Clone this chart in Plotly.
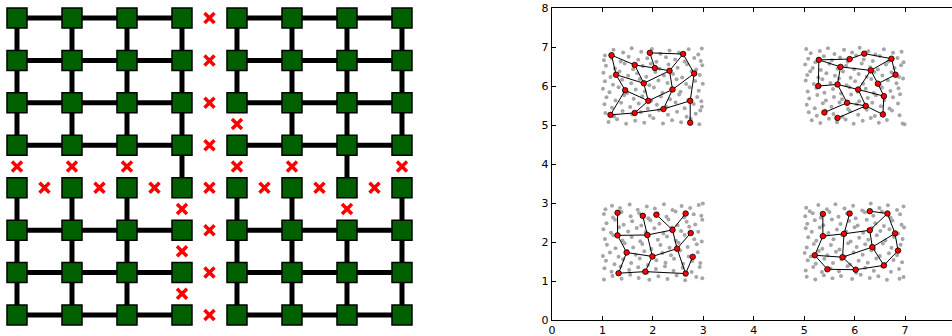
import plotly.graph_objects as go

# ================= LEFT PANEL: lattice =================
grid_cols = [0, 1, 2, 3, 4, 5, 6, 7]
grid_rows = [0, 1, 2, 3, 4, 5, 6, 7]   # row 0 at top

# red "x" marks = removed bonds (col, row)
cut_marks = [
    (3.5, 0), (3.5, 1), (3.5, 2), (3.5, 3), (3.5, 4), (3.5, 5), (3.5, 6), (3.5, 7),
    (0, 3.5), (1, 3.5), (2, 3.5), (4, 3.5), (5, 3.5), (7, 3.5),
    (0.5, 4), (1.5, 4), (2.5, 4), (4.5, 4), (5.5, 4), (6.5, 4),
    (4, 2.5), (3, 4.5), (3, 5.5), (3, 6.5), (6, 4.5),
]

# ================= RIGHT PANEL: clusters =================
tl_gray = [(1.05,6.78),(1.22,6.93),(1.41,6.86),(1.58,6.97),(1.77,6.88),(1.98,6.95),(2.15,6.83),(2.33,6.91),(2.52,6.86),(2.71,6.94),(2.90,6.81),(2.97,6.96),
 (1.03,6.66),(1.18,6.72),(1.36,6.63),(1.52,6.75),(1.71,6.67),(1.89,6.71),(2.07,6.62),(2.26,6.74),(2.44,6.68),(2.63,6.63),(2.82,6.72),(2.95,6.64),
 (1.07,6.52),(1.25,6.45),(1.44,6.58),(1.61,6.43),(1.80,6.51),(1.96,6.57),(2.13,6.44),(2.31,6.55),(2.49,6.47),(2.68,6.56),(2.86,6.42),(2.98,6.53),
 (1.02,6.34),(1.16,6.23),(1.34,6.37),(1.51,6.26),(1.69,6.33),(1.87,6.24),(2.05,6.36),(2.22,6.27),(2.40,6.31),(2.58,6.22),(2.77,6.38),(2.93,6.28),
 (1.05,6.12),(1.21,6.03),(1.39,6.16),(1.57,6.07),(1.74,6.18),(1.93,6.02),(2.11,6.14),(2.29,6.08),(2.47,6.17),(2.66,6.05),(2.84,6.13),(2.99,6.06),
 (1.01,5.93),(1.14,5.84),(1.32,5.97),(1.49,5.82),(1.66,5.91),(1.84,5.86),(2.02,5.96),(2.19,5.83),(2.37,5.92),(2.55,5.85),(2.73,5.97),(2.91,5.88),
 (1.08,5.71),(1.26,5.63),(1.43,5.76),(1.62,5.67),(1.79,5.74),(1.97,5.62),(2.16,5.73),(2.34,5.66),(2.52,5.78),(2.70,5.64),(2.88,5.72),(2.96,5.61),
 (1.04,5.53),(1.19,5.44),(1.37,5.57),(1.55,5.46),(1.72,5.55),(1.90,5.42),(2.08,5.52),(2.27,5.47),(2.45,5.58),(2.63,5.43),(2.81,5.54),(2.97,5.47),
 (1.06,5.31),(1.23,5.22),(1.40,5.36),(1.59,5.27),(1.76,5.33),(1.94,5.24),(2.12,5.38),(2.30,5.26),(2.48,5.34),(2.67,5.21),(2.85,5.29),(2.94,5.37),
 (1.12,5.08),(1.29,5.15),(1.47,5.03),(1.65,5.11),(1.83,5.06),(2.01,5.17),(2.20,5.04),(2.38,5.12),(2.56,5.07),(2.75,5.16),(2.92,5.02)]

tr_gray = [(5.04,6.95),(5.13,6.84),(5.31,6.90),(5.47,6.97),(5.60,6.82),(5.79,6.93),(5.95,6.86),(6.10,6.98),(6.27,6.89),(6.41,6.81),(6.58,6.94),(6.76,6.85),(6.93,6.88),
 (5.08,6.70),(5.22,6.61),(5.39,6.76),(5.55,6.66),(5.71,6.73),(5.86,6.62),(6.03,6.78),(6.18,6.68),(6.36,6.64),(6.50,6.77),(6.67,6.63),(6.85,6.72),(6.97,6.61),
 (5.02,6.55),(5.17,6.46),(5.33,6.41),(5.50,6.57),(5.66,6.44),(5.83,6.52),(5.99,6.43),(6.14,6.58),(6.31,6.48),(6.46,6.42),(6.62,6.55),(6.79,6.46),(6.92,6.53),
 (5.06,6.28),(5.12,6.38),(5.28,6.22),(5.44,6.33),(5.61,6.26),(5.77,6.37),(5.92,6.21),(6.08,6.31),(6.24,6.24),(6.39,6.36),(6.55,6.27),(6.73,6.35),(6.88,6.23),
 (5.03,6.14),(5.19,6.05),(5.36,6.17),(5.52,6.08),(5.69,6.19),(5.84,6.02),(6.01,6.12),(6.17,6.06),(6.33,6.18),(6.50,6.03),(6.66,6.15),(6.83,6.07),(6.96,6.19),
 (5.07,5.86),(5.24,5.95),(5.40,5.83),(5.57,5.92),(5.73,5.81),(5.90,5.97),(6.06,5.85),(6.22,5.93),(6.38,5.82),(6.54,5.96),(6.71,5.87),(6.87,5.94),
 (5.10,5.68),(5.26,5.77),(5.43,5.63),(5.59,5.72),(5.75,5.66),(5.93,5.78),(6.09,5.61),(6.26,5.69),(6.42,5.76),(6.59,5.64),(6.76,5.71),(6.90,5.79),
 (5.05,5.52),(5.21,5.43),(5.37,5.56),(5.54,5.47),(5.70,5.58),(5.87,5.41),(6.04,5.53),(6.20,5.45),(6.35,5.57),(6.52,5.48),(6.69,5.42),(6.86,5.55),
 (5.09,5.33),(5.25,5.24),(5.42,5.37),(5.58,5.28),(5.76,5.21),(5.91,5.35),(6.07,5.26),(6.24,5.39),(6.40,5.23),(6.57,5.31),(6.74,5.37),(6.89,5.25),
 (5.15,5.12),(5.32,5.05),(5.49,5.16),(5.65,5.07),(5.82,5.14),(5.98,5.03),(6.16,5.11),(6.32,5.18),(6.48,5.06),(6.64,5.13),(6.95,5.04),(6.99,5.02)]

bl_gray = [(1.06,2.84),(1.19,2.93),(1.35,2.87),(1.54,2.96),(1.70,2.83),(1.88,2.91),(2.04,2.86),(2.22,2.97),(2.39,2.82),(2.57,2.92),(2.74,2.87),(2.91,2.95),(2.99,2.99),
 (1.03,2.72),(1.21,2.63),(1.38,2.77),(1.56,2.66),(1.73,2.74),(1.91,2.61),(2.09,2.73),(2.27,2.65),(2.45,2.78),(2.62,2.63),(2.81,2.71),(2.96,2.67),
 (1.08,2.48),(1.25,2.57),(1.42,2.44),(1.59,2.53),(1.77,2.42),(1.95,2.56),(2.13,2.47),(2.31,2.58),(2.49,2.43),(2.67,2.52),(2.84,2.45),(2.98,2.57),
 (1.02,2.33),(1.17,2.24),(1.33,2.38),(1.51,2.27),(1.68,2.36),(1.86,2.25),(2.03,2.35),(2.21,2.22),(2.38,2.37),(2.56,2.28),(2.72,2.39),(2.90,2.26),
 (1.05,2.08),(1.22,2.17),(1.40,2.04),(1.58,2.13),(1.75,2.02),(1.92,2.16),(2.10,2.06),(2.28,2.14),(2.46,2.03),(2.63,2.18),(2.82,2.07),(2.97,2.01),
 (1.09,1.93),(1.26,1.84),(1.44,1.97),(1.61,1.86),(1.79,1.95),(1.97,1.82),(2.15,1.92),(2.33,1.85),(2.51,1.98),(2.69,1.87),(2.87,1.94),
 (1.01,1.64),(1.15,1.73),(1.32,1.62),(1.49,1.77),(1.66,1.67),(1.83,1.76),(2.01,1.61),(2.19,1.72),(2.36,1.66),(2.54,1.78),(2.71,1.63),(2.89,1.74),
 (1.07,1.52),(1.24,1.43),(1.41,1.56),(1.57,1.46),(1.74,1.58),(1.90,1.41),(2.07,1.53),(2.25,1.47),(2.42,1.57),(2.60,1.44),(2.78,1.51),(2.94,1.46),
 (1.04,1.33),(1.18,1.24),(1.36,1.37),(1.53,1.28),(1.71,1.35),(1.89,1.22),(2.06,1.31),(2.24,1.38),(2.41,1.26),(2.59,1.34),(2.77,1.23),(2.93,1.36),
 (1.03,1.04),(1.20,1.13),(1.38,1.06),(1.55,1.16),(1.72,1.08),(1.93,1.03),(2.11,1.12),(2.29,1.05),(2.47,1.14),(2.64,1.02),(2.86,1.10),(2.98,1.07)]

br_gray = [(5.04,2.88),(5.11,2.79),(5.28,2.95),(5.45,2.84),(5.62,2.97),(5.80,2.86),(5.97,2.93),(6.15,2.81),(6.32,2.99),(6.49,2.87),(6.66,2.94),(6.84,2.82),(6.97,2.91),
 (5.02,2.66),(5.17,2.74),(5.33,2.62),(5.50,2.77),(5.68,2.65),(5.85,2.73),(6.02,2.61),(6.20,2.76),(6.37,2.67),(6.54,2.78),(6.71,2.63),(6.90,2.71),
 (5.06,2.47),(5.21,2.56),(5.38,2.43),(5.55,2.58),(5.72,2.46),(5.89,2.54),(6.06,2.42),(6.24,2.57),(6.41,2.48),(6.58,2.41),(6.75,2.55),(6.93,2.44),
 (5.03,2.35),(5.15,2.26),(5.31,2.37),(5.48,2.23),(5.65,2.32),(5.83,2.27),(6.00,2.38),(6.17,2.24),(6.34,2.36),(6.51,2.28),(6.69,2.33),(6.86,2.22),(6.98,2.37),
 (5.08,2.12),(5.24,2.03),(5.41,2.16),(5.58,2.07),(5.75,2.18),(5.92,2.01),(6.09,2.11),(6.27,2.06),(6.44,2.17),(6.61,2.04),(6.78,2.13),(6.95,2.08),
 (5.05,1.86),(5.19,1.95),(5.36,1.83),(5.53,1.92),(5.70,1.81),(5.87,1.97),(6.04,1.87),(6.21,1.94),(6.39,1.82),(6.56,1.96),(6.73,1.85),(6.91,1.93),
 (5.01,1.72),(5.13,1.63),(5.29,1.77),(5.46,1.66),(5.63,1.75),(5.81,1.62),(5.98,1.73),(6.16,1.67),(6.33,1.78),(6.50,1.64),(6.68,1.71),(6.84,1.66),
 (5.07,1.53),(5.23,1.44),(5.40,1.57),(5.57,1.46),(5.74,1.55),(5.91,1.42),(6.08,1.52),(6.26,1.47),(6.43,1.58),(6.60,1.43),(6.77,1.54),(6.94,1.48),
 (5.03,1.27),(5.18,1.36),(5.35,1.23),(5.52,1.32),(5.69,1.25),(5.86,1.38),(6.03,1.21),(6.21,1.34),(6.38,1.26),(6.55,1.37),(6.72,1.24),(6.88,1.31),
 (5.05,1.11),(5.22,1.04),(5.39,1.15),(5.56,1.07),(5.73,1.13),(5.95,1.05),(6.12,1.16),(6.30,1.08),(6.47,1.12),(6.64,1.03),(6.89,1.06),(6.97,1.10)]

tl_nodes = [(1.18,6.79),(1.64,6.54),(1.94,6.85),(2.60,6.82),(2.04,6.46),(2.33,6.39),(1.27,6.29),(2.82,6.32),
            (1.82,6.07),(1.45,5.89),(2.39,5.91),(1.91,5.62),(2.74,5.62),(2.21,5.41),(1.16,5.26),(1.64,5.31),(2.74,5.06)]
tl_edges = [(1,2),(1,7),(3,4),(3,5),(2,5),(5,6),(4,6),(4,8),(2,9),(7,9),(9,6),(6,11),(7,10),(10,12),(10,15),
            (9,12),(8,11),(8,13),(15,16),(16,12),(12,11),(11,14),(16,14),(14,13),(13,17)]

tr_nodes = [(5.29,6.67),(5.90,6.69),(6.19,6.83),(6.73,6.70),(5.72,6.49),(6.32,6.40),(6.81,6.29),(5.28,6.00),
            (5.66,6.04),(6.46,6.06),(6.07,5.91),(6.58,5.74),(5.85,5.57),(6.22,5.49),(5.40,5.32),(5.66,5.18),(6.56,5.27)]
tr_edges = [(1,2),(2,3),(3,4),(1,5),(1,8),(5,6),(4,6),(4,7),(5,9),(8,9),(7,10),(6,10),(6,11),(9,11),(11,12),
            (10,12),(9,13),(11,14),(13,15),(13,14),(14,16),(14,17),(12,17)]

bl_nodes = [(1.30,2.75),(1.80,2.67),(2.07,2.70),(2.65,2.73),(1.30,2.17),(1.89,2.18),(2.39,2.31),(2.75,2.23),
            (1.48,1.73),(1.99,1.63),(2.48,1.83),(2.79,1.62),(1.32,1.20),(1.85,1.24),(2.65,1.19)]
bl_edges = [(1,5),(2,6),(3,7),(4,7),(5,6),(6,7),(5,9),(6,10),(7,11),(8,11),(9,10),(10,11),(9,13),(10,14),
            (13,14),(14,15),(11,15),(12,15)]

br_nodes = [(5.37,2.72),(5.90,2.73),(6.30,2.79),(6.65,2.73),(5.37,2.15),(5.79,2.21),(6.30,2.30),(6.80,2.22),
            (5.21,1.66),(5.76,1.61),(6.35,1.87),(6.86,1.78),(5.46,1.30),(6.02,1.29),(6.58,1.40)]
br_edges = [(1,5),(2,6),(3,4),(4,7),(4,8),(5,6),(6,7),(5,9),(6,10),(7,11),(8,11),(8,12),(9,10),(10,11),
            (9,13),(13,14),(10,14),(11,15),(14,15),(12,15)]

x_ticks = [0, 1, 2, 3, 4, 5, 6, 7, 8]
y_ticks = [0, 1, 2, 3, 4, 5, 6, 7, 8]

# ---------------- build figure ----------------
fig = go.Figure()

# lattice bonds: every nearest-neighbour bond not marked with an x
cut_set = set((float(a), float(b)) for a, b in cut_marks)
lx, ly = [], []
for r in grid_rows:
    for c in grid_cols[:-1]:
        if (c + 0.5, float(r)) not in cut_set:
            lx += [c, c + 1, None]; ly += [r, r, None]
for c in grid_cols:
    for r in grid_rows[:-1]:
        if (float(c), r + 0.5) not in cut_set:
            lx += [c, c, None]; ly += [r, r + 1, None]
fig.add_trace(go.Scatter(x=lx, y=ly, mode="lines", line=dict(color="black", width=5),
                         xaxis="x", yaxis="y", cliponaxis=False, hoverinfo="skip"))

nx = [c for r in grid_rows for c in grid_cols]
ny = [r for r in grid_rows for c in grid_cols]
fig.add_trace(go.Scatter(x=nx, y=ny, mode="markers", xaxis="x", yaxis="y", cliponaxis=False,
                         marker=dict(symbol="square", size=20, color="#006000",
                                     line=dict(color="black", width=1.5))))
fig.add_trace(go.Scatter(x=[p[0] for p in cut_marks], y=[p[1] for p in cut_marks], mode="markers",
                         xaxis="x", yaxis="y", cliponaxis=False,
                         marker=dict(symbol="x-thin", size=10, color="red",
                                     line=dict(color="red", width=3.5))))

# right panel
for gray in (tl_gray, tr_gray, bl_gray, br_gray):
    fig.add_trace(go.Scatter(x=[p[0] for p in gray], y=[p[1] for p in gray], mode="markers",
                             xaxis="x2", yaxis="y2",
                             marker=dict(size=4, color="#a6a6a6", line=dict(width=0))))

for nodes, edges in ((tl_nodes, tl_edges), (tr_nodes, tr_edges), (bl_nodes, bl_edges), (br_nodes, br_edges)):
    ex, ey = [], []
    for a, b in edges:
        ex += [nodes[a - 1][0], nodes[b - 1][0], None]
        ey += [nodes[a - 1][1], nodes[b - 1][1], None]
    fig.add_trace(go.Scatter(x=ex, y=ey, mode="lines", xaxis="x2", yaxis="y2",
                             line=dict(color="black", width=1)))
    fig.add_trace(go.Scatter(x=[n[0] for n in nodes], y=[n[1] for n in nodes], mode="markers",
                             xaxis="x2", yaxis="y2",
                             marker=dict(size=5.5, color="red", line=dict(color="black", width=0.8))))

axis_font = dict(family="DejaVu Sans", size=11, color="black")
fig.update_layout(
    width=952, height=336,
    margin=dict(l=0, r=0, t=8, b=16, autoexpand=False),
    paper_bgcolor="white", plot_bgcolor="white",
    showlegend=False,
    xaxis=dict(domain=[0, 0.44], range=[-0.309, 7.307], visible=False, fixedrange=True),
    yaxis=dict(domain=[0, 1], range=[7.118, -0.236], visible=False, fixedrange=True),
    xaxis2=dict(domain=[0.5798, 1], range=[0, 7.93], anchor="y2",
                showline=True, linecolor="black", linewidth=1.3, mirror="ticks",
                ticks="inside", ticklen=4, tickcolor="black", tickwidth=1,
                tickvals=x_ticks, ticktext=[str(v) for v in x_ticks],
                showgrid=False, zeroline=False, tickfont=axis_font, automargin=False),
    yaxis2=dict(domain=[0, 1], range=[0, 8], anchor="x2",
                showline=True, linecolor="black", linewidth=1.3, mirror=False,
                ticks="inside", ticklen=4, tickcolor="black", tickwidth=1,
                tickvals=y_ticks, ticktext=[str(v) for v in y_ticks],
                showgrid=False, zeroline=False, tickfont=axis_font, automargin=False),
)

fig.write_html("out.html", config={"displayModeBar": False},
               post_script="document.body.style.margin='0';document.body.style.overflow='hidden';")
